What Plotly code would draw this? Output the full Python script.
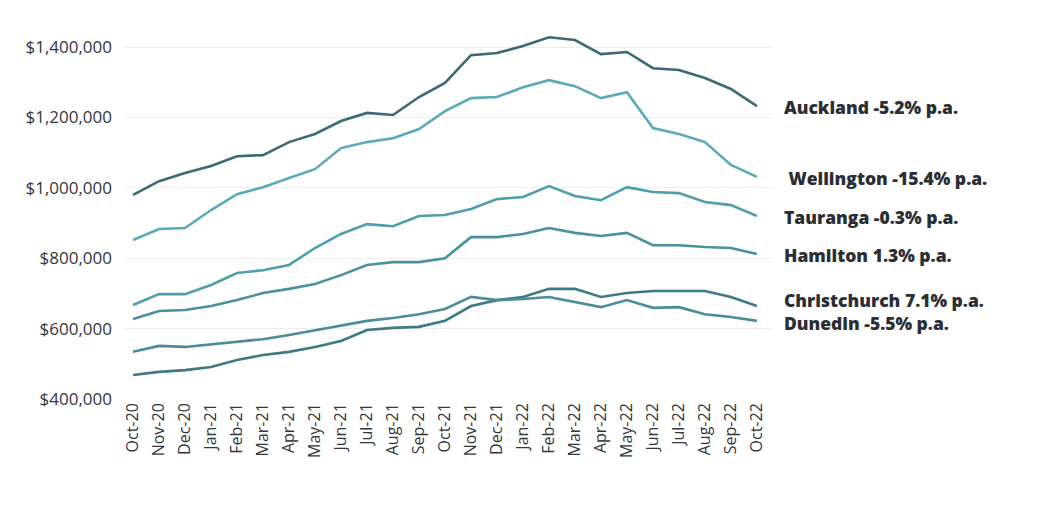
import plotly.graph_objects as go

months = ["Oct-20","Nov-20","Dec-20","Jan-21","Feb-21","Mar-21","Apr-21","May-21","Jun-21",
          "Jul-21","Aug-21","Sep-21","Oct-21","Nov-21","Dec-21","Jan-22","Feb-22","Mar-22",
          "Apr-22","May-22","Jun-22","Jul-22","Aug-22","Sep-22","Oct-22"]

auckland = [980000,1019000,1042000,1062000,1090000,1093000,1130000,1153000,1190000,1213000,
            1207000,1258000,1298000,1377000,1383000,1403000,1428000,1420000,1380000,1386000,
            1340000,1335000,1312000,1281000,1232000]
wellington = [852000,883000,886000,937000,982000,1002000,1028000,1053000,1113000,1130000,
              1141000,1167000,1218000,1255000,1258000,1286000,1306000,1289000,1255000,1272000,
              1170000,1153000,1130000,1065000,1031000]
tauranga = [667000,698000,698000,724000,758000,766000,781000,829000,869000,897000,
            891000,920000,923000,940000,968000,974000,1005000,977000,965000,1002000,
            988000,985000,960000,951000,920000]
hamilton = [627000,650000,653000,664000,681000,701000,713000,727000,752000,781000,
            789000,789000,800000,860000,860000,869000,886000,872000,863000,872000,
            837000,837000,832000,829000,812000]
christchurch = [468000,477000,482000,491000,511000,525000,534000,548000,565000,596000,
                602000,605000,622000,664000,681000,690000,713000,713000,690000,701000,
                707000,707000,707000,690000,664000]
dunedin = [534000,551000,548000,556000,562000,570000,582000,596000,610000,622000,
           630000,641000,656000,690000,681000,684000,690000,676000,661000,681000,
           659000,661000,641000,633000,622000]

labels = ["Auckland -5.2% p.a.", "\u00a0Wellington -15.4% p.a.", "Tauranga -0.3% p.a.",
          "Hamilton 1.3% p.a.", "Christchurch 7.1% p.a.", "Dunedin -5.5% p.a."]

series = [auckland, wellington, tauranga, hamilton, christchurch, dunedin]
colors = ["#3b6a74", "#5aaab8", "#4f9eac", "#4a909d", "#3e7a85", "#4a8d98"]

fig = go.Figure()
for s, c, name in zip(series, colors, labels):
    fig.add_trace(go.Scatter(x=months, y=s, mode="lines", name=name,
                             line=dict(color=c, width=2.6), showlegend=False))

# label blocks: the last two labels sit as a tight two-line block
label_blocks = [labels[0], labels[1], labels[2], labels[3], labels[4] + "<br>" + labels[5]]
label_y = [1229000, 1029000, 917000, 810000, 649000]

for lab, ly in zip(label_blocks, label_y):
    fig.add_annotation(x=1.0155, xref="paper", y=ly, yref="y", text=lab, align="left",
                       showarrow=False, xanchor="left", yanchor="middle",
                       font=dict(family="Open Sans", size=17.5, color="#2b2e33", weight=800))

fig.update_layout(
    width=1044, height=510,
    margin=dict(l=117, r=280, t=25, b=119, autoexpand=False),
    plot_bgcolor="white", paper_bgcolor="white",
    font=dict(family="Open Sans", color="#33363b"),
)
fig.update_xaxes(type="category", range=[-0.31, 24.58], tickangle=-90, automargin=False,
                 tickfont=dict(family="Open Sans", size=16, color="#33363b"), showgrid=False,
                 showline=False, zeroline=False, ticks="")
fig.update_yaxes(range=[400000, 1440000], tickvals=[400000, 600000, 800000, 1000000, 1200000, 1400000],
                 tickformat="$,.0f", tickfont=dict(family="Open Sans", size=17, color="#33363b"),
                 showgrid=True, gridcolor="#eeeeee", gridwidth=1, zeroline=False, automargin=False,
                 showline=False, ticks="", ticklabelstandoff=12)

fig.write_html("out.html")
